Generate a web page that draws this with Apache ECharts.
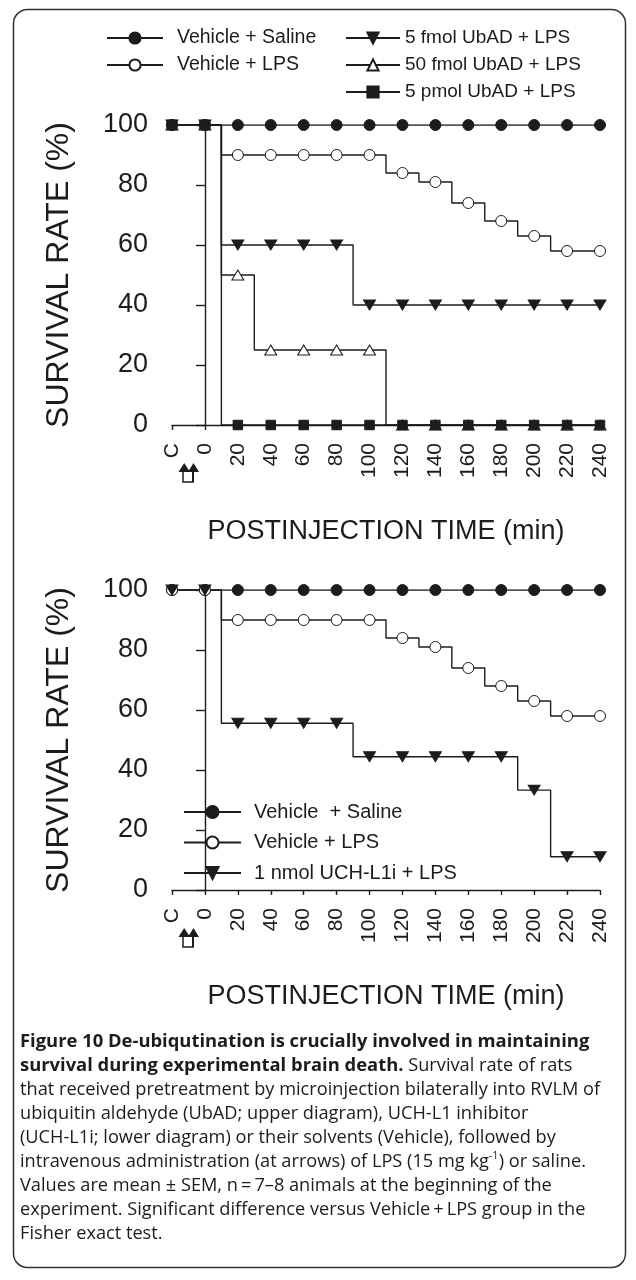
<!DOCTYPE html>
<html>
<head>
<meta charset="utf-8">
<script src="https://cdn.jsdelivr.net/npm/echarts@6/dist/echarts.min.js"></script>
<style>
  html, body { margin: 0; padding: 0; background: #fff; }
  #chart { width: 636px; height: 1280px; }
</style>
</head>
<body>
<div id="chart"></div>
<script>
// x value -20 stands for the control reading "C"
const timePoints = [-20, 0, 20, 40, 60, 80, 100, 120, 140, 160, 180, 200, 220, 240];
const xTickLabels = { '-20': 'C' };

// upper diagram (UbAD)
const salineTop = [100, 100, 100, 100, 100, 100, 100, 100, 100, 100, 100, 100, 100, 100];
const lpsTop    = [100, 100, 90, 90, 90, 90, 90, 84, 81, 74, 68, 63, 58, 58];
const ubad5f    = [100, 100, 60, 60, 60, 60, 40, 40, 40, 40, 40, 40, 40, 40];
const ubad50f   = [100, 100, 50, 25, 25, 25, 25, 0, 0, 0, 0, 0, 0, 0];
const ubad5p    = [100, 100, 0, 0, 0, 0, 0, 0, 0, 0, 0, 0, 0, 0];

// lower diagram (UCH-L1i)
const salineBottom = [100, 100, 100, 100, 100, 100, 100, 100, 100, 100, 100, 100, 100, 100];
const lpsBottom    = [100, 100, 90, 90, 90, 90, 90, 84, 81, 74, 68, 63, 58, 58];
const uchl1i       = [100, 100, 55.6, 55.6, 55.6, 55.6, 44.4, 44.4, 44.4, 44.4, 44.4, 33.3, 11.1, 11.1];

const INK = '#1c1c1c';
const SANS = '"Liberation Sans", Arial, sans-serif';
const CAPTION_FONT = '"Open Sans", sans-serif';

function pairs(values) {
    return timePoints.map((t, i) => [t, values[i]]);
}

function stepSeries(name, values, grid, symbol, fill, extra) {
    return Object.assign({
        name: name,
        type: 'line',
        xAxisIndex: grid,
        yAxisIndex: grid,
        step: 'middle',
        data: pairs(values),
        symbol: symbol,
        symbolSize: 11,
        showAllSymbol: true,
        lineStyle: { color: INK, width: 1.4 },
        itemStyle: { color: fill, borderColor: INK, borderWidth: 1 },
        emphasis: { disabled: true },
        animation: false
    }, extra || {});
}

function xAxisFor(grid) {
    return {
        type: 'value',
        gridIndex: grid,
        min: -20,
        max: 240,
        interval: 20,
        name: 'POSTINJECTION TIME (min)',
        nameLocation: 'middle',
        nameGap: 93,
        nameTextStyle: { fontFamily: SANS, fontSize: 27, color: INK },
        axisLine: { onZero: false, lineStyle: { color: INK, width: 1.4 } },
        axisTick: { length: 5, lineStyle: { color: INK, width: 1.4 } },
        splitLine: { show: false },
        axisLabel: {
            rotate: 90,
            margin: 18,
            fontFamily: SANS,
            fontSize: 21,
            color: INK,
            formatter: v => xTickLabels[v] || String(v)
        }
    };
}

function yAxisFor(grid) {
    return {
        type: 'value',
        gridIndex: grid,
        min: 0,
        max: 100,
        interval: 20,
        name: 'SURVIVAL RATE (%)',
        nameLocation: 'middle',
        nameGap: 97,
        nameTextStyle: { fontFamily: SANS, fontSize: 32, color: INK },
        axisLine: { show: true, lineStyle: { color: INK, width: 1.4 } },
        axisTick: { show: true, length: 9, lineStyle: { color: INK, width: 1.4 } },
        splitLine: { show: false },
        axisLabel: { margin: 24, fontFamily: SANS, fontSize: 27, color: INK }
    };
}

function legendText(gap, size, lh) {
    return { fontFamily: SANS, fontSize: size, lineHeight: lh, color: INK, padding: [0, 0, 0, gap] };
}

const captionText = [
    '{b|Figure 10 De-ubiqutination is crucially involved in maintaining}',
    '{b|survival during experimental brain death.}{n| Survival rate of rats}',
    '{n|that received pretreatment by microinjection bilaterally into RVLM of}',
    '{n|ubiquitin aldehyde (UbAD; upper diagram), UCH-L1 inhibitor}',
    '{n|(UCH-L1i; lower diagram) or their solvents (Vehicle), followed by}',
    '{n|intravenous administration (at arrows) of LPS (15 mg kg}{sup|-1}{n|) or saline.}',
    '{n|Values are mean \u00b1 SEM, n\u2009=\u20097\u20138 animals at the beginning of the}',
    '{n|experiment. Significant difference versus Vehicle\u2009+\u2009LPS group in the}',
    '{n|Fisher exact test.}'
].join('\n');

// injection arrows under the C / 0 ticks
function arrows(top) {
    return [
        { type: 'rect', shape: { x: 183, y: top + 8, width: 10, height: 11 }, style: { fill: '#fff', stroke: INK, lineWidth: 1.5 } },
        { type: 'line', shape: { x1: 193, y1: top + 8, x2: 193, y2: top + 19 }, style: { stroke: INK, lineWidth: 2 } },
        { type: 'polygon', shape: { points: [[178.5, top + 9], [190, top + 9], [184.2, top]] }, style: { fill: INK } },
        { type: 'polygon', shape: { points: [[188, top + 9], [199, top + 9], [193.5, top]] }, style: { fill: INK } }
    ];
}

const chart = echarts.init(document.getElementById('chart'), null, { renderer: 'canvas' });

const option = {
    backgroundColor: '#fff',
    animation: false,
    grid: [
        { left: 172, right: 36, top: 125, height: 300 },
        { left: 172, right: 36, top: 590, height: 300 }
    ],
    xAxis: [xAxisFor(0), xAxisFor(1)],
    yAxis: [yAxisFor(0), yAxisFor(1)],
    legend: [
        {
            orient: 'vertical', left: 106, top: 27, padding: 0, itemWidth: 56, itemHeight: 14, itemGap: 5,
            textStyle: legendText(9, 19.5, 22), selectedMode: false,
            data: ['Vehicle + Saline', 'Vehicle + LPS']
        },
        {
            orient: 'vertical', left: 345, top: 27, padding: 0, itemWidth: 54, itemHeight: 14, itemGap: 5,
            textStyle: legendText(0, 19, 22), selectedMode: false,
            data: ['5 fmol UbAD + LPS', '50 fmol UbAD + LPS', '5 pmol UbAD + LPS']
        },
        {
            orient: 'vertical', left: 183, top: 800, padding: 0, itemWidth: 57, itemHeight: 15, itemGap: 6.5,
            textStyle: legendText(8, 20, 24), selectedMode: false,
            data: ['Vehicle  + Saline', 'Vehicle + LPS ', '1 nmol UCH-L1i + LPS']
        }
    ],
    series: [
        stepSeries('Vehicle + LPS', lpsTop, 0, 'circle', '#fff'),
        stepSeries('5 fmol UbAD + LPS', ubad5f, 0, 'triangle', INK, { symbolRotate: 180, symbolSize: [12, 10] }),
        stepSeries('50 fmol UbAD + LPS', ubad50f, 0, 'triangle', '#fff', { symbolSize: [12, 10] }),
        stepSeries('5 pmol UbAD + LPS', ubad5p, 0, 'rect', INK, { symbolSize: 9.5 }),
        stepSeries('Vehicle + Saline', salineTop, 0, 'circle', INK),

        stepSeries('Vehicle  + Saline', salineBottom, 1, 'circle', INK),
        stepSeries('Vehicle + LPS ', lpsBottom, 1, 'circle', '#fff'),
        stepSeries('1 nmol UCH-L1i + LPS', uchl1i, 1, 'triangle', INK, { symbolRotate: 180, symbolSize: [12, 10] })
    ],
    graphic: [
        {
            type: 'rect', silent: true,
            shape: { x: 13.5, y: 9.5, width: 612, height: 1258, r: 14 },
            style: { fill: 'none', stroke: '#333', lineWidth: 1.5 }
        },
        ...arrows(463),
        ...arrows(928),
        {
            type: 'text', left: 20, top: 1030,
            style: {
                text: captionText,
                fill: INK,
                fontFamily: CAPTION_FONT,
                fontSize: 18.2,
                lineHeight: 24,
                rich: {
                    b: { fontWeight: 'bold', fontFamily: CAPTION_FONT, fontSize: 18.4, lineHeight: 24, fill: INK },
                    n: { fontFamily: CAPTION_FONT, fontSize: 18.2, lineHeight: 24, fill: INK },
                    sup: { fontFamily: CAPTION_FONT, fontSize: 11, lineHeight: 24, verticalAlign: 'top', fill: INK }
                }
            }
        }
    ]
};

chart.setOption(option);
</script>
</body>
</html>
